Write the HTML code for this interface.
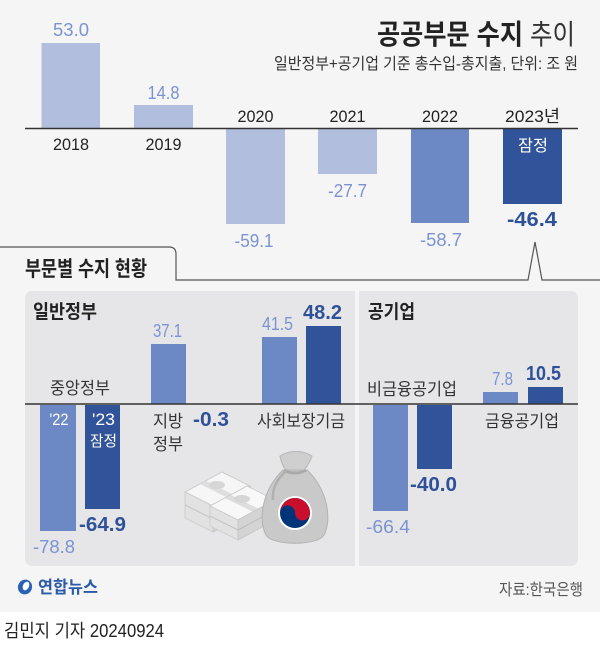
<!DOCTYPE html>
<html><head><meta charset="utf-8"><style>
html,body{margin:0;padding:0;background:#fff;}
svg{display:block;}
text{font-family:"Liberation Sans","Noto Sans CJK KR",sans-serif;}
</style></head><body>
<svg width="600" height="650" viewBox="0 0 600 650" xmlns="http://www.w3.org/2000/svg">
<rect x="0" y="0" width="600" height="612" fill="#f5f5f5"/>
<rect x="0" y="612" width="600" height="38" fill="#ffffff"/>

<!-- Title -->
<text x="377" y="44" font-size="28" font-weight="bold" fill="#222" textLength="146" lengthAdjust="spacingAndGlyphs">공공부문 수지</text>
<text x="530" y="44" font-size="28" fill="#333" textLength="45" lengthAdjust="spacingAndGlyphs">추이</text>
<text x="274" y="69" font-size="16" fill="#333" textLength="304" lengthAdjust="spacingAndGlyphs">일반정부+공기업 기준 총수입-총지출, 단위: 조 원</text>

<!-- Top chart bars -->
<rect x="41.5" y="43" width="58.5" height="86" fill="#b2bedd"/>
<rect x="134" y="105" width="59" height="24" fill="#b2bedd"/>
<rect x="226" y="129" width="59" height="95" fill="#b2bedd"/>
<rect x="318" y="129" width="59" height="45" fill="#b2bedd"/>
<rect x="411" y="129" width="58" height="94" fill="#6d89c5"/>
<rect x="503" y="129" width="59" height="75" fill="#30539a"/>
<line x1="25" y1="128.5" x2="578" y2="128.5" stroke="#333" stroke-width="1.5"/>

<!-- Top values -->
<g font-size="18" fill="#7b93d0" text-anchor="middle">
<text x="71" y="36" textLength="36" lengthAdjust="spacingAndGlyphs">53.0</text>
<text x="163.5" y="99" textLength="32" lengthAdjust="spacingAndGlyphs">14.8</text>
<text x="254" y="247" textLength="39" lengthAdjust="spacingAndGlyphs">-59.1</text>
<text x="347.5" y="197" textLength="39" lengthAdjust="spacingAndGlyphs">-27.7</text>
<text x="441" y="246" textLength="42" lengthAdjust="spacingAndGlyphs">-58.7</text>
</g>
<text x="532" y="226" font-size="20" font-weight="bold" fill="#2f5198" text-anchor="middle" textLength="50" lengthAdjust="spacingAndGlyphs">-46.4</text>
<text x="533" y="151" font-size="16" fill="#ffffff" text-anchor="middle" textLength="30" lengthAdjust="spacingAndGlyphs">잠정</text>

<!-- Year labels -->
<g font-size="17" fill="#222" text-anchor="middle">
<text x="71" y="150" textLength="36" lengthAdjust="spacingAndGlyphs">2018</text>
<text x="163.5" y="150" textLength="36" lengthAdjust="spacingAndGlyphs">2019</text>
<text x="255.5" y="122" textLength="36" lengthAdjust="spacingAndGlyphs">2020</text>
<text x="347.5" y="122" textLength="36" lengthAdjust="spacingAndGlyphs">2021</text>
<text x="440" y="122" textLength="36" lengthAdjust="spacingAndGlyphs">2022</text>
<text x="532.5" y="122" textLength="55" lengthAdjust="spacingAndGlyphs">2023년</text>
</g>

<!-- Tab outline -->
<path d="M0,247 H169 Q176,247 176,254 V280 H528 L535,242 L542,280 H600" fill="none" stroke="#555" stroke-width="1.2"/>
<text x="25" y="276" font-size="21" font-weight="bold" fill="#222" textLength="122" lengthAdjust="spacingAndGlyphs">부문별 수지 현황</text>

<!-- Grey panels -->
<path d="M33,291 H355 V566 H33 Q25,566 25,558 V299 Q25,291 33,291 Z" fill="#e6e6e8"/>
<path d="M359,291 H570 Q578,291 578,299 V558 Q578,566 570,566 H359 Z" fill="#e6e6e8"/>

<text x="33" y="318" font-size="19" font-weight="bold" fill="#222" textLength="64" lengthAdjust="spacingAndGlyphs">일반정부</text>
<text x="368" y="318" font-size="19" font-weight="bold" fill="#222" textLength="47" lengthAdjust="spacingAndGlyphs">공기업</text>

<!-- Illustrations -->
<g>
  <!-- money stack back -->
  <polygon points="185,492 222,472 250,486 213,506" fill="#f6f6f6" stroke="#cfcfcf" stroke-width="1"/>
  <polygon points="200,484 206,481 234,495 228,498" fill="#dedede"/>
  <ellipse cx="217" cy="485" rx="8" ry="4" fill="#d6d6d6"/>
  <polygon points="185,492 213,506 213,532 185,518" fill="#e2e2e2" stroke="#cfcfcf" stroke-width="1"/>
  <polygon points="213,506 250,486 250,512 213,532" fill="#d4d4d4" stroke="#c8c8c8" stroke-width="1"/>
  <line x1="185" y1="505" x2="213" y2="519" stroke="#c4c4c4"/>
  <line x1="213" y1="519" x2="250" y2="499" stroke="#bcbcbc"/>
  <!-- money stack front -->
  <polygon points="210,506 247,486 275,500 238,520" fill="#f8f8f8" stroke="#cfcfcf" stroke-width="1"/>
  <polygon points="225,498 231,495 259,509 253,512" fill="#dedede"/>
  <ellipse cx="242" cy="499" rx="8" ry="4" fill="#d6d6d6"/>
  <polygon points="210,506 238,520 238,540 210,526" fill="#e2e2e2" stroke="#cfcfcf" stroke-width="1"/>
  <polygon points="238,520 275,500 275,520 238,540" fill="#d4d4d4" stroke="#c8c8c8" stroke-width="1"/>
  <line x1="210" y1="516" x2="238" y2="530" stroke="#c4c4c4"/>
  <line x1="238" y1="530" x2="275" y2="510" stroke="#bcbcbc"/>
  <!-- bag -->
  <path d="M283,470 C262,490 258,520 266,535 C272,546 318,546 324,535 C332,520 328,490 307,470 Z" fill="#c9c9c9" stroke="#b3b3b3" stroke-width="1"/>
  <path d="M284,470 C290,474 300,474 306,470" fill="none" stroke="#a9a9a9" stroke-width="3"/>
  <path d="M280,456 C290,450 302,450 312,456 C310,462 306,468 304,470 H286 C284,468 281,462 280,456 Z" fill="#cfcfcf" stroke="#b5b5b5" stroke-width="1"/>
  <path d="M286,471 C276,480 272,490 273,500" fill="none" stroke="#b0b0b0" stroke-width="2.5"/>
  <circle cx="295" cy="513" r="17" fill="#ffffff"/>
  <circle cx="295" cy="513" r="15" fill="#003478"/>
  <path d="M280,513 A15,15 0 0 1 310,513 A7.5,7.5 0 0 1 295,513 A7.5,7.5 0 0 0 280,513 Z" fill="#c8102e"/>
</g>

<!-- Panel bars -->
<rect x="40" y="405" width="36" height="126" fill="#6d89c5"/>
<rect x="85" y="405" width="35" height="104" fill="#30539a"/>
<rect x="151" y="344" width="35" height="60" fill="#6d89c5"/>
<rect x="262" y="337" width="35" height="67" fill="#6d89c5"/>
<rect x="306" y="326" width="35" height="78" fill="#30539a"/>
<rect x="373" y="405" width="35" height="106" fill="#6d89c5"/>
<rect x="417" y="405" width="35" height="64" fill="#30539a"/>
<rect x="483" y="392" width="35" height="12" fill="#6d89c5"/>
<rect x="528" y="387" width="35" height="17" fill="#30539a"/>
<line x1="25" y1="404" x2="578" y2="404" stroke="#333" stroke-width="1.5"/>

<!-- Panel labels -->
<g font-size="17" fill="#333">
<text x="50" y="394" textLength="60" lengthAdjust="spacingAndGlyphs">중앙정부</text>
<text x="367" y="395" textLength="90" lengthAdjust="spacingAndGlyphs">비금융공기업</text>
<text x="485" y="427" textLength="74" lengthAdjust="spacingAndGlyphs">금융공기업</text>
<text x="257" y="427" textLength="88" lengthAdjust="spacingAndGlyphs">사회보장기금</text>
<text x="153" y="427" textLength="30" lengthAdjust="spacingAndGlyphs">지방</text>
<text x="153" y="450" textLength="30" lengthAdjust="spacingAndGlyphs">정부</text>
</g>
<text x="59" y="425" font-size="17" fill="#fff" text-anchor="middle" textLength="19" lengthAdjust="spacingAndGlyphs">'22</text>
<text x="103.5" y="425" font-size="17" fill="#fff" text-anchor="middle" textLength="23" lengthAdjust="spacingAndGlyphs">'23</text>
<text x="103.5" y="446" font-size="15" fill="#fff" text-anchor="middle" textLength="27" lengthAdjust="spacingAndGlyphs">잠정</text>

<!-- Panel values -->
<g font-size="18" fill="#7b93d0">
<text x="153" y="337" textLength="29" lengthAdjust="spacingAndGlyphs">37.1</text>
<text x="262" y="330" textLength="31" lengthAdjust="spacingAndGlyphs">41.5</text>
<text x="492" y="385" textLength="21" lengthAdjust="spacingAndGlyphs">7.8</text>
<text x="33" y="553" textLength="42" lengthAdjust="spacingAndGlyphs">-78.8</text>
<text x="366" y="533" textLength="44" lengthAdjust="spacingAndGlyphs">-66.4</text>
</g>
<g font-size="20" font-weight="bold" fill="#2f5198">
<text x="303" y="319" textLength="39" lengthAdjust="spacingAndGlyphs">48.2</text>
<text x="526" y="380" textLength="35" lengthAdjust="spacingAndGlyphs">10.5</text>
<text x="193" y="426" textLength="36" lengthAdjust="spacingAndGlyphs">-0.3</text>
<text x="79" y="531" textLength="47" lengthAdjust="spacingAndGlyphs">-64.9</text>
<text x="410" y="491" textLength="47" lengthAdjust="spacingAndGlyphs">-40.0</text>
</g>

<!-- Footer -->
<ellipse cx="25" cy="587" rx="7" ry="7.5" fill="#2a62b8" transform="rotate(25 25 587)"/>
<ellipse cx="26" cy="586" rx="3" ry="4.5" fill="#ffffff" transform="rotate(25 26 586)"/>
<text x="38" y="593" font-size="17" font-weight="bold" fill="#2a5aa8" textLength="60" lengthAdjust="spacingAndGlyphs">연합뉴스</text>
<text x="499" y="595" font-size="16" fill="#555" textLength="84" lengthAdjust="spacingAndGlyphs">자료:한국은행</text>
<text x="4" y="637" font-size="18" fill="#222" textLength="160" lengthAdjust="spacingAndGlyphs">김민지 기자 20240924</text>
</svg>
</body></html>
